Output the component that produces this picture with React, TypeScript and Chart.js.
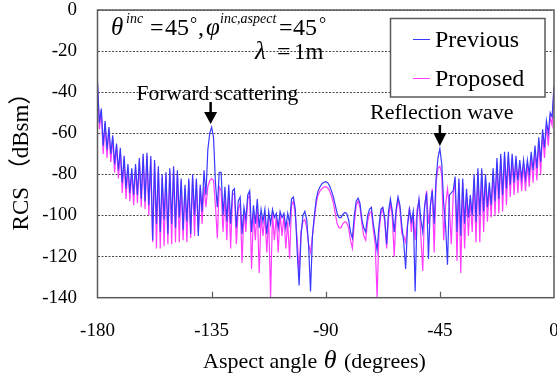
import React, { useEffect, useRef } from "react";
import { Chart, registerables } from "chart.js";
Chart.register(...registerables);

const angles = [
  -180, -179.25, -178.5, -177.75, -177, -176.25, -175.5, -174.75, -174, -173.25,
  -172.5, -171.75, -171, -170.25, -169.5, -168.75, -168, -167.25, -166.5, -165.75,
  -165, -164.25, -163.5, -162.75, -162, -161.25, -160.5, -159.75, -159, -158.25,
  -157.5, -156.75, -156, -155.25, -154.5, -153.75, -153, -152.25, -151.5, -150.75,
  -150, -149.25, -148.5, -147.75, -147, -146.25, -145.5, -144.75, -144, -143.25,
  -142.5, -141.75, -141, -140.25, -139.5, -138.75, -138, -137.25, -136.5, -135.75,
  -135, -134.25, -133.5, -132.75, -132, -131.25, -130.5, -129.75, -129, -128.25,
  -127.5, -126.75, -126, -125.25, -124.5, -123.75, -123, -122.25, -121.5, -120.75,
  -120, -119.25, -118.5, -117.75, -117, -116.25, -115.5, -114.75, -114, -113.25,
  -112.5, -111.75, -111, -110.25, -109.5, -108.75, -108, -107.25, -106.5, -105.75,
  -105, -104.25, -103.5, -102.75, -102, -101.25, -100.5, -99.75, -99, -98.25,
  -97.5, -96.75, -96, -95.25, -94.5, -93.75, -93, -92.25, -91.5, -90.75,
  -90, -89.25, -88.5, -87.75, -87, -86.25, -85.5, -84.75, -84, -83.25,
  -82.5, -81.75, -81, -80.25, -79.5, -78.75, -78, -77.25, -76.5, -75.75,
  -75, -74.25, -73.5, -72.75, -72, -71.25, -70.5, -69.75, -69, -68.25,
  -67.5, -66.75, -66, -65.25, -64.5, -63.75, -63, -62.25, -61.5, -60.75,
  -60, -59.25, -58.5, -57.75, -57, -56.25, -55.5, -54.75, -54, -53.25,
  -52.5, -51.75, -51, -50.25, -49.5, -48.75, -48, -47.25, -46.5, -45.75,
  -45, -44.25, -43.5, -42.75, -42, -41.25, -40.5, -39.75, -39, -38.25,
  -37.5, -36.75, -36, -35.25, -34.5, -33.75, -33, -32.25, -31.5, -30.75,
  -30, -29.25, -28.5, -27.75, -27, -26.25, -25.5, -24.75, -24, -23.25,
  -22.5, -21.75, -21, -20.25, -19.5, -18.75, -18, -17.25, -16.5, -15.75,
  -15, -14.25, -13.5, -12.75, -12, -11.25, -10.5, -9.75, -9, -8.25,
  -7.5, -6.75, -6, -5.25, -4.5, -3.75, -3, -2.25, -1.5, -0.75,
  0,
];

const previous = [
  -35, -55, -48, -66, -54, -68, -57, -70, -61, -75,
  -65, -78, -67, -84, -71, -87, -75, -89, -77, -90,
  -75, -90, -72, -92, -70, -93, -69.5, -95, -71, -112,
  -73, -104, -76, -108, -80, -102, -79, -109, -77, -104,
  -76, -106, -78, -101, -82, -107, -85, -103, -82, -109,
  -80, -100, -82, -110, -85, -98, -78, -90, -68, -60,
  -57, -62, -84, -96, -79, -79, -100, -86, -103, -85,
  -104, -88, -87, -106, -93, -91, -109, -96, -102, -90,
  -88, -108, -95, -104, -92, -106, -97, -103, -97, -109,
  -98, -104, -97, -101, -99, -106, -98, -101, -99, -106,
  -99, -104, -92, -91, -97, -118, -134, -110, -100, -98,
  -102, -115, -137, -110, -100, -92, -88, -86, -84.5, -83.8,
  -83.5, -84, -85.5, -88, -91, -95, -99, -101, -101, -99.5,
  -98.5, -99, -102, -108, -111, -100, -93, -91.5, -94, -102,
  -106, -108, -100, -97, -96, -104, -110, -117, -105, -97,
  -96, -101, -114, -98, -92, -98, -108, -97, -91, -95,
  -105, -113, -126, -105, -97, -103, -98, -137, -100, -92,
  -102, -108, -95, -89, -121, -95, -88, -104, -82, -72,
  -67.5, -75, -94, -105, -124, -90, -89, -88, -81, -108,
  -82, -110, -82, -104, -87, -101, -90, -100, -80, -103,
  -77, -100, -77, -98, -80, -96, -84, -95, -77, -93,
  -72, -92, -70, -90, -69, -87, -69, -85, -70, -84,
  -71, -83, -73, -82, -73, -82, -73, -80, -69, -78,
  -66, -77, -62, -74, -58, -67, -54, -60, -50, -52,
  -37,
];

const proposed = [
  -36, -58, -49, -70, -55, -72, -58, -74, -62.5, -79,
  -66, -82, -68.5, -89, -72.5, -92, -76.5, -93, -78.5, -95,
  -76.5, -94, -73.5, -96, -71.5, -97, -71, -100, -72.5, -113,
  -74.5, -116, -77.5, -116, -81.5, -115, -80.5, -114, -78.5, -114,
  -77.5, -113, -79.5, -113, -83.5, -112, -86.5, -113, -83.5, -111,
  -81.5, -110, -83.5, -108, -86.5, -104, -86, -96, -86, -83,
  -82, -83, -95, -111, -86, -88, -108, -90, -112, -88,
  -116, -90, -89, -114, -97, -94, -123, -98, -108, -92,
  -90, -126, -99, -112, -95, -128, -100, -110, -100, -118,
  -101, -140, -99, -112, -100, -118, -99, -110, -100, -116,
  -103, -121, -95, -93, -100, -112, -128, -108, -103, -102,
  -106, -114, -118, -110, -102, -94, -90, -88, -87, -86.2,
  -86, -86.5, -88, -90.5, -94, -99, -104, -106, -106, -104,
  -103, -103.5, -106, -112, -116, -104, -95, -93, -96, -104,
  -110, -112, -103, -99, -98, -107, -114, -140, -108, -99,
  -97, -103, -116, -101, -94, -101, -120, -99, -92, -97,
  -109, -110, -113, -104, -96, -108, -99, -112, -97, -93,
  -110, -127, -96, -88, -104, -96, -87, -118, -84, -77,
  -76, -80, -112, -95, -87, -96, -114, -90, -83, -122,
  -84, -128, -84, -116, -89, -110, -92, -108, -82, -113,
  -79, -113, -79, -108, -82, -103, -86, -101, -79, -100,
  -74, -99, -72, -98, -71, -95, -71, -91, -72, -90,
  -73, -89, -75, -88, -75, -88, -75, -86, -71, -84,
  -68, -83, -64, -80, -60, -72, -56, -66, -52, -56,
  -38,
];

const xTickValues = [-180, -135, -90, -45, 0];
const yTickValues = [0, -20, -40, -60, -80, -100, -120, -140];
const seriesNames = ["Previous", "Proposed"];
const seriesColors = ["#3a3aff", "#ff3cff"];
const annotationAngles = [-135, -45];
const annotationTexts = ["Forward scattering", "Reflection wave"];

const SERIF = "'Liberation Serif', 'Times New Roman', serif";

export default function App() {
  const ref = useRef<HTMLCanvasElement>(null);

  useEffect(() => {
    const canvas = ref.current;
    if (!canvas) return;

    const overlay = {
      id: "overlay",
      afterDraw(chart: any) {
        const ctx: CanvasRenderingContext2D = chart.ctx;
        const { left, right, top, bottom } = chart.chartArea;
        const xs = chart.scales.x;
        ctx.save();

        // frame
        ctx.strokeStyle = "#5a5a5a";
        ctx.lineWidth = 1.5;
        ctx.strokeRect(left, top, right - left, bottom - top);

        // inward ticks on x axis
        ctx.lineWidth = 1.2;
        xTickValues.slice(1, -1).forEach((v) => {
          const px = Math.round(xs.getPixelForValue(v)) + 0.5;
          ctx.beginPath();
          ctx.moveTo(px, bottom);
          ctx.lineTo(px, bottom - 6);
          ctx.stroke();
        });

        ctx.fillStyle = "#000";
        ctx.textBaseline = "alphabetic";
        ctx.textAlign = "left";
        const put = (s: string, x: number, y: number, font: string) => {
          ctx.font = font;
          ctx.fillText(s, x, y);
          return x + ctx.measureText(s).width;
        };

        // condition text line 1
        put("θ", 111, 35, `italic 25px ${SERIF}`);
        put("inc", 126, 23, `italic 14px ${SERIF}`);
        put("=", 150, 35, `24px ${SERIF}`);
        put("45", 165, 35, `24px ${SERIF}`);
        put("°", 190, 30, `18px ${SERIF}`);
        put(",", 198, 35, `24px ${SERIF}`);
        put("φ", 206, 35, `italic 25px ${SERIF}`);
        put("inc,aspect", 220, 23, `italic 14px ${SERIF}`);
        put("=", 279, 35, `24px ${SERIF}`);
        put("45", 293, 35, `24px ${SERIF}`);
        put("°", 319, 30, `18px ${SERIF}`);
        // line 2
        put("λ", 255, 59, `italic 25px ${SERIF}`);
        put("=", 277, 59, `24px ${SERIF}`);
        put("1m", 294, 59, `23px ${SERIF}`);

        // annotations with arrows
        const arrow = (x: number, y0: number, y1: number, y2: number) => {
          ctx.fillStyle = "#000";
          ctx.fillRect(x - 1.25, y0, 2.5, y1 - y0 + 1);
          ctx.beginPath();
          ctx.moveTo(x - 6.5, y1);
          ctx.lineTo(x + 6.5, y1);
          ctx.lineTo(x, y2);
          ctx.closePath();
          ctx.fill();
        };
        put(annotationTexts[0], 136.5, 100, `21.5px ${SERIF}`);
        arrow(xs.getPixelForValue(annotationAngles[0]) - 1, 102, 112, 124);
        put(annotationTexts[1], 370, 119, `22px ${SERIF}`);
        arrow(xs.getPixelForValue(annotationAngles[1]), 125, 133, 146);

        // legend box
        ctx.fillStyle = "#fff";
        ctx.fillRect(390.5, 18.5, 154.5, 78.5);
        ctx.strokeStyle = "#5a5a5a";
        ctx.lineWidth = 1.5;
        ctx.strokeRect(390.5, 18.5, 154.5, 78.5);
        const legendY = [39.5, 78.5];
        seriesNames.forEach((name, i) => {
          ctx.strokeStyle = seriesColors[i];
          ctx.lineWidth = 1;
          ctx.beginPath();
          ctx.moveTo(413, legendY[i]);
          ctx.lineTo(430, legendY[i]);
          ctx.stroke();
          ctx.fillStyle = "#000";
          put(name, 435, legendY[i] + 7.5, `24px ${SERIF}`);
        });

        // axis titles
        ctx.fillStyle = "#000";
        let x = put("Aspect angle ", 203, 368, `22px ${SERIF}`);
        x = put("θ", x + 1, 368, `italic 26px ${SERIF}`);
        put(" (degrees)", x + 2, 368, `22px ${SERIF}`);

        ctx.save();
        ctx.translate(28, 156);
        ctx.rotate(-Math.PI / 2);
        ctx.textAlign = "center";
        ctx.font = `23px ${SERIF}, 'Noto Sans CJK JP'`;
        ctx.fillText("RCS （dBsm）", 0, 0);
        ctx.restore();

        ctx.restore();
      },
    };

    const chart = new Chart(canvas, {
      type: "line",
      data: {
        datasets: [previous, proposed].map((vals, k) => ({
          label: seriesNames[k],
          data: angles.map((a, i) => ({ x: a, y: vals[i] })),
          borderColor: seriesColors[k],
          backgroundColor: seriesColors[k],
          borderWidth: 1.2,
          pointRadius: 0,
          tension: 0,
          fill: false,
        })),
      },
      options: {
        animation: false,
        responsive: false,
        devicePixelRatio: 1,
        layout: { padding: { left: 0, right: 3, top: 10, bottom: 0 } },
        plugins: { legend: { display: false }, tooltip: { enabled: false } },
        scales: {
          x: {
            type: "linear",
            min: -180,
            max: 0,
            afterBuildTicks: (s: any) => {
              s.ticks = xTickValues.map((v) => ({ value: v }));
            },
            grid: { display: false, drawTicks: false },
            border: { display: false },
            ticks: {
              font: { family: SERIF, size: 19 },
              color: "#000",
              padding: 22,
              maxRotation: 0,
              autoSkip: false,
            },
            afterFit: (s: any) => {
              s.height = 81.3;
              s.paddingLeft = 0;
              s.paddingRight = 0;
            },
          },
          y: {
            type: "linear",
            min: -140,
            max: 0,
            afterBuildTicks: (s: any) => {
              s.ticks = yTickValues.map((v) => ({ value: v }));
            },
            grid: { color: "#4a4a4a", lineWidth: 1, drawTicks: false },
            border: { display: false, dash: [2, 1.5] },
            ticks: {
              font: { family: SERIF, size: 19 },
              color: "#000",
              padding: 20.5,
            },
            afterFit: (s: any) => {
              s.width = 97.5;
              s.paddingTop = 0;
              s.paddingBottom = 0;
            },
          },
        },
      },
      plugins: [overlay],
    });

    return () => chart.destroy();
  }, []);

  return (
    <div style={{ position: "fixed", left: 0, top: 0, width: 557, height: 379, background: "#fff" }}>
      <canvas ref={ref} width={557} height={379} style={{ display: "block" }} />
    </div>
  );
}
